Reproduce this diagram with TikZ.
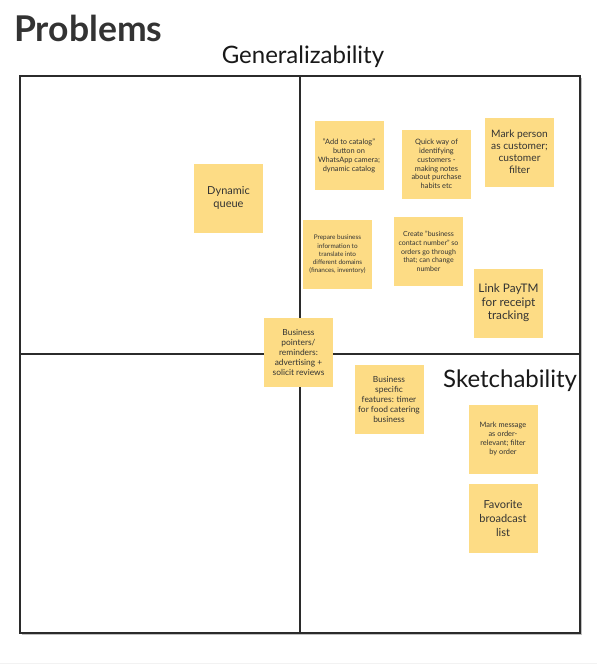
\documentclass[tikz,border=0pt]{standalone}
\usepackage{fontspec}
\setmainfont{Lato}
\definecolor{sticky}{HTML}{FDDC85}
\definecolor{ink}{HTML}{333333}
\definecolor{gridline}{HTML}{2B2B2B}
\tikzset{
  note/.style={fill=sticky, minimum width=69pt, minimum height=69pt, inner sep=0pt, align=center, text=ink},
  fs/.style 2 args={font=\fontsize{#1}{#2}\selectfont},
  axislabel/.style={text=black!90, font=\fontsize{24}{28}\selectfont, inner sep=0pt},
  gridl/.style={draw=gridline, line width=1.8pt}
}
\begin{document}
\begin{tikzpicture}[x=1pt,y=-1pt]
\useasboundingbox (0,0) rectangle (597,665);
\fill[white] (0,0) rectangle (597,665);
\draw[black!5, line width=1pt] (0,663.5) -- (597,663.5);
% title
\node[anchor=base west, inner sep=0pt, text=ink, font=\fontsize{35.5}{40}\bfseries] (title) at (14,41) {Problems};
\node[anchor=base, axislabel] (gen) at (303,63.5) {Generalizability};
% grid
\coordinate (tl) at (20,76);
\coordinate (br) at (580,633);
\draw[black!25, line width=1.5pt] (21.5,634.5) -- (581.5,634.5) -- (581.5,77.5);
\draw[gridl] (tl) rectangle (br);
\coordinate (vt) at (300,76);
\coordinate (vb) at (300,633);
\coordinate (hl) at (20,354);
\coordinate (hr) at (580,354);
\draw[gridl] (vt) -- (vb);
\draw[gridl] (hl) -- (hr);
\node[anchor=base west, axislabel] (sketch) at (443,387.5) {Sketchability};
% notes
\node[note, fs={11}{12.7}] (dq) at (228.5,198) {Dynamic\\queue};
\node[note, fs={7.4}{9}] (cat) at (349,155.5) {"Add to catalog"\\button on\\WhatsApp camera;\\dynamic catalog};
\node[note, fs={7.4}{8.8}] (quick) at (436.5,164) {Quick way of\\identifying\\customers -\\making notes\\about purchase\\habits etc};
\node[note, fs={10.2}{11.9}] (markp) at (519.5,152) {Mark person\\as customer;\\customer\\filter};
\node[note, fs={6.4}{8.3}] (prep) at (337.5,254.5) {Prepare business\\information to\\translate into\\different domains\\(finances, inventory)};
\node[note, fs={7}{8.6}] (create) at (428.5,251.5) {Create "business\\contact number" so\\orders go through\\that; can change\\number};
\node[note, fs={11.8}{13.7}] (paytm) at (508.5,303) {Link PayTM\\for receipt\\tracking};
\node[note, fs={8.4}{10}] (ptr) at (298.5,352.5) {Business\\pointers/\\reminders:\\advertising +\\solicit reviews};
\node[note, fs={8.4}{10}] (spec) at (389,399.5) {Business\\specific\\features: timer\\for food catering\\business};
\node[note, fs={7.4}{8.8}] (markm) at (503,439) {Mark message\\as order-\\relevant; filter\\by order};
\node[note, fs={11}{13.8}] (fav) at (503,518.5) {Favorite\\broadcast\\list};
\end{tikzpicture}
\end{document}
